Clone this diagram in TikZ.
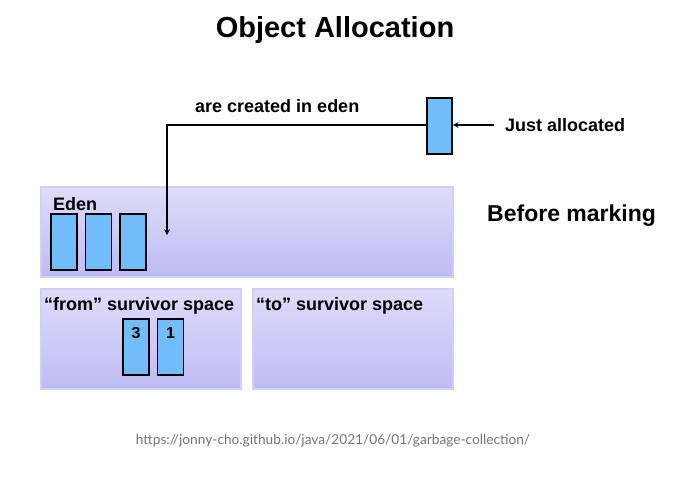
\documentclass[tikz,border=0pt]{standalone}
\usepackage{fontspec}
\setmainfont{Liberation Sans}
\newfontfamily\urlfont{Lato}
\usepackage{tikz}
\usetikzlibrary{positioning}
\definecolor{spacetop}{HTML}{DDDCF9}
\definecolor{spacebot}{HTML}{BEBCF4}
\definecolor{spaceline}{HTML}{D0CFF7}
\definecolor{objfill}{HTML}{72BDF7}

\begin{document}
\begin{tikzpicture}
          [x=1pt, y=-1pt,
           space/.style={draw=spaceline, line width=1.5pt, top color=spacetop, bottom color=spacebot},
           obj/.style={draw=black, line width=1.6pt, fill=objfill, rectangle, minimum width=26pt, minimum height=56pt, inner sep=0pt},
           lbl/.style={font=\bfseries\fontsize{18}{20}\selectfont, inner sep=0pt}]
          \useasboundingbox (0,0) rectangle (690,477);

          \node (title) at (335,30) {\bfseries\fontsize{29}{32}\selectfont Object Allocation};

          % the three spaces
          \draw[space] (41,187) rectangle (453,277);
          \draw[space] (41,289) rectangle (241,389);
          \draw[space] (253,289) rectangle (453,389);

          \node (eden) [lbl, anchor=west] at (53,204) {Eden};
          \node (from) [lbl, anchor=west] at (44,306) {“from” survivor space};
          \node (to) [lbl, anchor=west] at (256,306) {“to” survivor space};

          \node (e1) [obj] at (64,242) {};
          \node (e2) [obj, right = 7pt of e1] {};
          \node (e3) [obj, right = 7pt of e2] {};

          \node (f3) [obj] at (136,347) {};
          \node (f1) [obj, right = 7pt of f3] {};
          \node [lbl, font=\bfseries\fontsize{16}{18}\selectfont, below = 9pt of f3.north] {3};
          \node [lbl, font=\bfseries\fontsize{16}{18}\selectfont, below = 9pt of f1.north] {1};

          \node (new) [obj, minimum width=25pt] at (439.5,126) {};
          \node (just) [lbl, anchor=west] at (505,125) {Just allocated};
          \coordinate (corner) at (167,125);
          \coordinate (target) at (167,235);

          \draw[->, >=stealth, line width=1.5pt] (just.west -| 494,0) -- (new.east |- 0,125);
          \draw[->, >=stealth, line width=1.5pt] (new.west |- 0,125) -- (corner) -- (target);
          \node (created) [lbl, anchor=west] at (195,106) {are created in eden};

          \node (before) [font=\bfseries\fontsize{23}{26}\selectfont, inner sep=0pt, anchor=west] at (487,216) {Before marking};

          \node (url) [font=\urlfont\fontsize{13.7}{16}\selectfont, text=black!55] at (333,441) {https://jonny-cho.github.io/java/2021/06/01/garbage-collection/};
        \end{tikzpicture}
\end{document}
